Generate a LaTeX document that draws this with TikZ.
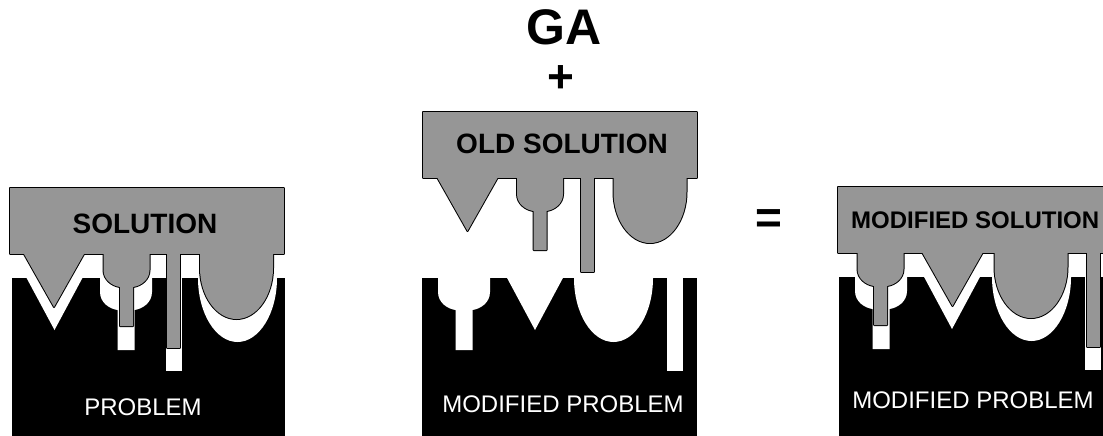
\documentclass[tikz,border=0pt]{standalone}
\usepackage{fontspec}
\setmainfont{Liberation Sans}
\definecolor{dither}{RGB}{150,150,150}

% solution parts: #1 style, #2 centre x, #3 base y
\newcommand\spikeV[3]{\path[#1] (#2-30,#3-4) -- (#2-30,#3) -- (#2,#3+53) -- (#2+30,#3) -- (#2+30,#3-4) -- cycle;}
\newcommand\spikeKey[3]{\path[#1] (#2-23,#3-4) -- (#2-23,#3+16)
  .. controls (#2-23,#3+26) and (#2-14,#3+32) .. (#2-6.5,#3+33) -- (#2-6.5,#3+72)
  -- (#2+6.5,#3+72) -- (#2+6.5,#3+33)
  .. controls (#2+14,#3+32) and (#2+23,#3+26) .. (#2+23,#3+16) -- (#2+23,#3-4) -- cycle;}
\newcommand\spikeRod[3]{\path[#1] (#2-6.5,#3-4) -- (#2-6.5,#3+94) -- (#2+6.5,#3+94) -- (#2+6.5,#3-4) -- cycle;}
\newcommand\spikeU[3]{\path[#1] (#2-36.5,#3-4) -- (#2-36.5,#3+14)
  .. controls (#2-36.5,#3+42) and (#2-20,#3+65) .. (#2,#3+65)
  .. controls (#2+20,#3+65) and (#2+36.5,#3+42) .. (#2+36.5,#3+14) -- (#2+36.5,#3-4) -- cycle;}

% cavities in the problem block: #1 centre x, #2 top y
\newcommand\holeV[2]{\path[cavity] (#1-29,#2-2) -- (#1,#2+52) -- (#1+29,#2-2) -- cycle;}
\newcommand\holeKey[2]{\path[cavity] (#1-26,#2-2) -- (#1-26,#2+14)
  .. controls (#1-26,#2+25) and (#1-16,#2+31) .. (#1-8.5,#2+32) -- (#1-8.5,#2+72)
  -- (#1+8.5,#2+72) -- (#1+8.5,#2+32)
  .. controls (#1+16,#2+31) and (#1+26,#2+25) .. (#1+26,#2+14) -- (#1+26,#2-2) -- cycle;}
\newcommand\holeSlot[2]{\path[cavity] (#1-8,#2-2) -- (#1-8,#2+93) -- (#1+8,#2+93) -- (#1+8,#2-2) -- cycle;}
\newcommand\holeU[2]{\path[cavity] (#1-39.5,#2-2) -- (#1-39.5,#2)
  .. controls (#1-39.5,#2+35.3) and (#1-21.8,#2+64) .. (#1,#2+64)
  .. controls (#1+21.8,#2+64) and (#1+39.5,#2+35.3) .. (#1+39.5,#2) -- (#1+39.5,#2-2) -- cycle;}

% the three solution pieces, drawn with a given style
\newcommand\solA[1]{%
  \path[#1] (10,188) rectangle (284,254);
  \spikeV{#1}{54}{254}\spikeKey{#1}{126.5}{254}\spikeRod{#1}{173.5}{254}\spikeU{#1}{236.5}{254}}
\newcommand\solB[1]{%
  \path[#1] (423,112) rectangle (697,178);
  \spikeV{#1}{467.5}{178}\spikeKey{#1}{540}{178}\spikeRod{#1}{587.5}{178}\spikeU{#1}{650}{178}}
\newcommand\solC[1]{%
  \path[#1] (838,187) rectangle (1110,253);
  \spikeKey{#1}{880.5}{253}\spikeV{#1}{952.5}{253}\spikeU{#1}{1031}{253}\spikeRod{#1}{1093.5}{253}}

\tikzset{
  solline/.style={draw=black, line width=2pt, line join=round, fill=dither},
  solfill/.style={fill=dither},
  cavity/.style={fill=white},
  ground/.style={fill=black},
  boldlab/.style={inner sep=0pt, font=\fontsize{28}{28}\selectfont\bfseries},
  problab/.style={inner sep=0pt, text=white, font=\fontsize{24}{24}\selectfont},
}

\begin{document}
\begin{tikzpicture}[x=1pt, y=-1pt]
  \useasboundingbox (0,0) rectangle (1103,436);
  \fill[white] (0,0) rectangle (1103,436);
  \clip (0,0) rectangle (1103,436);

  % problem blocks with their cavities
  \path[ground] (12,278) rectangle (285,436);
  \holeV{54.5}{278}\holeKey{126}{278}\holeSlot{174}{278}\holeU{237.5}{278}

  \path[ground] (422,278) rectangle (697,436);
  \holeKey{464}{278}\holeV{535}{278}\holeU{613.5}{278}\holeSlot{674.5}{278}

  \path[ground] (839,277) rectangle (1110,436);
  \holeKey{881}{277}\holeV{952}{277}\holeU{1031.5}{277}\holeSlot{1093}{277}

  % solutions: outlined pass, then a plain fill to remove inner seams
  \solA{solline}\solB{solline}\solC{solline}
  \solA{solfill}\solB{solfill}\solC{solfill}

  % labels
  \node[boldlab, anchor=base] (sol) at (145,233) {SOLUTION};
  \node[problab, anchor=base] (prob) at (143,415) {PROBLEM};

  \node[inner sep=0pt, anchor=base, font=\fontsize{50}{50}\selectfont\bfseries] (ga) at (564,45) {GA};
  \node[inner sep=0pt, font=\fontsize{46}{46}\selectfont\bfseries] (plus) at (561,79) {+};
  \node[boldlab, anchor=base] (oldsol) at (562,153) {OLD SOLUTION};
  \node[problab, anchor=base] (modprobB) at (563,412) {MODIFIED PROBLEM};

  \node[inner sep=0pt, font=\fontsize{46}{46}\selectfont\bfseries] (eq) at (768.5,222) {=};

  \node[inner sep=0pt, anchor=base west, font=\fontsize{24}{24}\selectfont\bfseries] (modsol) at (851,228) {MODIFIED SOLUTION};
  \node[problab, anchor=base] (modprobC) at (973,408) {MODIFIED PROBLEM};
\end{tikzpicture}
\end{document}
